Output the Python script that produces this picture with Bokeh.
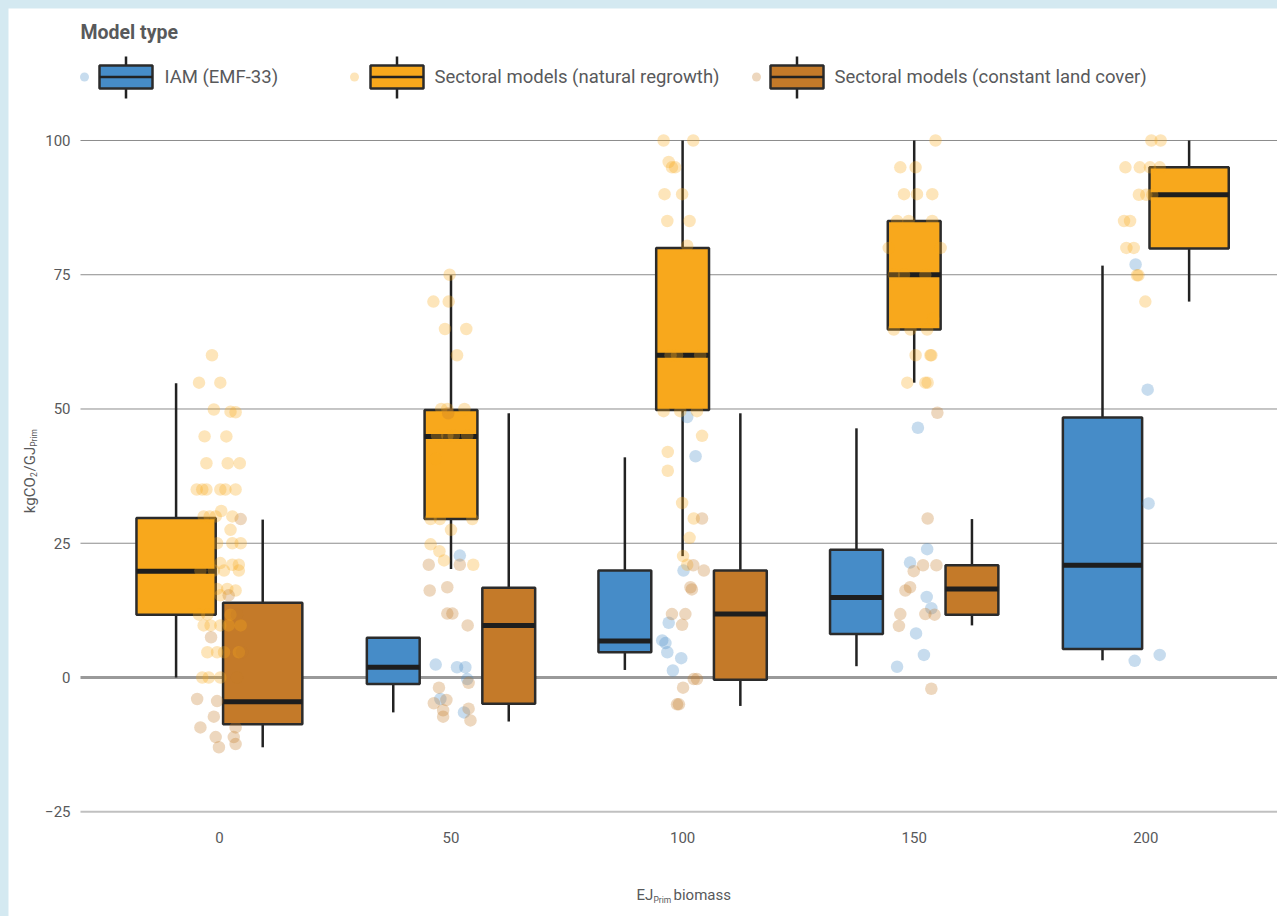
from bokeh.plotting import figure
from bokeh.models import ColumnDataSource, FixedTicker, Label, Range1d
from bokeh.core.properties import value
from bokeh.embed import file_html
from bokeh.resources import INLINE

# ---------------- data ----------------
type_names = ["IAM (EMF-33)", "Sectoral models (natural regrowth)",
              "Sectoral models (constant land cover)"]
type_colors = ["#468cc8", "#f8a81c", "#c47a29"]
x_ticks = [0, 50, 100, 150, 200]
y_ticks = [-25, 0, 25, 50, 75, 100]

# box statistics (lower whisker, q1, median, q3, upper whisker)
iam_groups = [50, 100, 150, 200]
iam_low = [-6.5, 1.4, 2.1, 3.2]
iam_q1 = [-1.2, 4.7, 8.1, 5.3]
iam_med = [1.9, 6.8, 14.9, 20.9]
iam_q3 = [7.4, 19.9, 23.8, 48.4]
iam_high = [7.4, 41.0, 46.4, 76.7]

nr_groups = [0, 50, 100, 150, 200]
nr_low = [0.0, 20.2, 22.6, 54.9, 70.0]
nr_q1 = [11.7, 29.5, 49.8, 64.8, 79.9]
nr_med = [19.8, 44.9, 60.0, 75.0, 89.9]
nr_q3 = [29.7, 49.8, 80.0, 85.0, 95.0]
nr_high = [54.8, 74.9, 100.0, 100.0, 100.0]

clc_groups = [0, 50, 100, 150]
clc_low = [-13.0, -8.2, -5.3, 9.7]
clc_q1 = [-8.7, -4.9, -0.4, 11.7]
clc_med = [-4.5, 9.7, 11.8, 16.5]
clc_q3 = [13.9, 16.7, 19.9, 20.9]
clc_high = [29.4, 49.2, 49.2, 29.5]

# individual (jittered) observations
iam_pt_x = [46.7, 51.3, 53.1, 53.5, 47.7, 52.8, 51.9,
            101.0, 102.8, 100.2, 97.0, 95.6, 96.3, 96.7, 99.7, 97.9,
            150.8, 152.8, 149.1, 152.7, 153.7, 150.4, 152.1, 146.3,
            197.8, 200.4, 200.6, 197.6, 203.0]
iam_pt_y = [2.4, 1.9, 1.9, -0.3, -4.0, -6.5, 22.7,
            48.5, 41.2, 19.9, 10.2, 6.9, 6.4, 4.7, 3.6, 1.3,
            46.5, 23.9, 21.4, 15.0, 12.9, 8.2, 4.2, 2.0,
            76.9, 53.6, 32.4, 3.1, 4.2]

nr_pt_x = [-1.6, -4.4, 0.2, -1.2, 2.4, 3.5, -3.2, 1.5, -2.8, 1.8, 4.4,
           -4.9, -3.7, -2.8, 0.2, 1.3, 3.5, 0.4, -3.4, -2.1, -0.8, 2.8,
           2.4, -0.5, 2.8, 4.6, 0.2, 2.8, 4.2, -4.1, -1.2, 1.0, 4.2,
           -0.5, 1.7, 3.5, 0.2, -4.4, -2.6, 2.4, -3.4, -1.9, 0.2, 2.0, 4.6,
           -2.6, -0.5, 1.0, 4.2, -3.7, -2.3, 0.2,
           49.7, 46.2, 49.5, 48.7, 53.3, 51.3, 47.9, 49.2, 52.9, 47.0, 49.2,
           50.6, 53.5, 46.7, 45.6, 47.6, 54.6, 50.0, 45.6, 47.5, 48.5, 54.8,
           95.9, 102.3, 97.0, 97.7, 98.4, 96.1, 99.9, 96.7, 101.5, 101.0,
           97.4, 98.8, 103.8, 95.9, 99.5, 103.1, 104.2, 96.8, 96.8, 99.9,
           102.4, 101.5, 100.1, 101.0,
           154.6, 147.0, 150.3, 147.8, 150.6, 153.9, 146.3, 148.8, 153.9,
           144.5, 155.7, 145.6, 147.8, 152.4, 154.1, 145.6, 149.2, 152.8,
           150.3, 153.5, 153.7, 148.5, 152.4, 152.9,
           201.2, 203.2, 195.6, 198.7, 200.9, 203.0, 198.5, 200.1, 201.4,
           195.3, 196.6, 195.8, 197.4, 198.1, 198.4, 199.9]
nr_pt_y = [60, 54.9, 54.9, 49.9, 49.5, 49.4, 44.9, 44.9, 39.9, 39.9, 39.9,
           35, 35, 35, 35, 35, 35, 31, 30, 30, 30, 30,
           27.5, 25, 25, 25, 21.3, 21, 21, 19.9, 19.9, 19.9, 19.9,
           16.5, 16.5, 16.2, 15.3, 11.7, 11.7, 11.7, 9.7, 9.7, 9.7, 9.7, 9.7,
           4.7, 4.7, 4.7, 4.7, 0.0, 0.0, 0.0,
           75, 70, 70, 64.9, 64.9, 60, 50, 50, 50, 45, 45,
           45, 45, 40.7, 29.5, 29.5, 29.5, 27.5, 24.8, 23.5, 21.8, 21,
           100, 100, 96, 95, 95, 90, 90, 85, 85, 80.4,
           60, 60, 60, 49.6, 49.6, 49.6, 45, 42, 38.5, 32.5,
           29.6, 26, 22.6, 21,
           100, 95, 95, 90, 90, 90, 85, 85, 85,
           80, 80, 75, 75, 75, 66.8, 64.8, 64.8, 64.8,
           60, 60, 60, 54.9, 54.9, 54.9,
           100, 100, 95, 95, 95, 95, 89.9, 89.9, 89.9,
           85, 85, 80, 80, 74.9, 74.9, 70]

clc_pt_x = [4.6, -1.8, 2.0, 4.9, 3.8, 3.8, -4.8, -0.5, -1.2, -4.1, 3.5, -0.8,
            3.1, -0.1, 3.5,
            49.4, 45.2, 51.9, 45.4, 49.2, 49.2, 50.3, 53.6, 53.8, 47.4, 46.3,
            49.0, 48.3, 48.3, 53.8, 54.2,
            104.2, 102.3, 104.6, 101.7, 102.0, 97.7, 100.6, 99.9, 102.4,
            103.1, 100.1, 98.8, 99.2,
            155.0, 152.9, 151.9, 154.8, 149.9, 148.1, 149.1, 152.4, 154.4,
            147.0, 146.7, 153.7]
clc_pt_y = [29.5, 7.5, 15.3, 4.7, 0.0, 11.7, -4.0, -4.4, -7.3, -9.3, -9.3, -11.1,
            -11.1, -13.0, -12.4,
            49.2, 21, 21, 16.2, 16.8, 11.9, 11.9, 9.7, -1.0, -1.9, -4.8,
            -4.2, -6.1, -7.3, -5.8, -8.0,
            29.6, 20.9, 19.9, 16.8, 16.4, 11.8, 11.8, 9.8, -0.3,
            -0.3, -1.9, -5.0, -5.0,
            49.3, 29.6, 20.9, 20.9, 19.8, 16.2, 16.8, 11.8, 11.7,
            11.8, 9.6, -2.1]

# ---------------- layout / style ----------------
FONT = "Roboto"
TXT = "#58595b"
PAGE_BG = "#d4e9f1"
FIG_L, FIG_T, FIG_R, FIG_B = 8, 8, 1277, 916   # figure on the page (px)
PANEL_L, PANEL_B = 80, 820                       # visual panel edges (px)
X_START, X_END = -45.53, 228.43
Y_START, Y_END = -44.51, 124.58
DODGE = 37.4
BOX_FRAC = 0.915


def X(px):
    return X_START + (px - FIG_L) * (X_END - X_START) / (FIG_R - FIG_L)


def Y(py):
    return Y_END - (py - FIG_T) * (Y_END - Y_START) / (FIG_B - FIG_T)


p = figure(width=FIG_R - FIG_L, height=FIG_B - FIG_T, output_backend="svg",
           toolbar_location=None, margin=(FIG_T, 0, 0, FIG_L),
           x_range=Range1d(X_START, X_END), y_range=Range1d(Y_START, Y_END),
           min_border_left=0, min_border_right=0,
           min_border_top=0, min_border_bottom=0)
p.outline_line_color = None
p.background_fill_color = "white"
p.border_fill_color = "white"
p.title.visible = False

for ax in (p.xaxis, p.yaxis):
    ax.axis_line_color = None
    ax.major_tick_line_color = None
    ax.minor_tick_line_color = None
    ax.major_tick_out = 0
    ax.major_tick_in = 0
    ax.major_label_text_font = FONT
    ax.major_label_text_font_size = "15px"
    ax.major_label_text_color = TXT
p.xaxis.ticker = FixedTicker(ticks=x_ticks)
p.yaxis.ticker = FixedTicker(ticks=y_ticks)
p.yaxis.major_label_overrides = {-25: "\u221225"}
p.xaxis.major_label_standoff = 11
p.yaxis.major_label_standoff = 10
p.xaxis.fixed_location = Y(PANEL_B)
p.yaxis.fixed_location = X(PANEL_L)
p.xgrid.visible = False
p.ygrid.visible = False

# horizontal reference lines at the y ticks, starting at the panel's left edge
grid_major = [t for t in y_ticks if t > 0]
grid_zero = [t for t in y_ticks if t == 0]
grid_bottom = [y_ticks[0]]
p.segment(x0=X(PANEL_L), x1=X_END, y0=grid_major, y1=grid_major,
          line_color="#8c8c8c", line_width=1)
p.segment(x0=X(PANEL_L), x1=X_END, y0=grid_bottom, y1=grid_bottom,
          line_color="#c0c0c0", line_width=2)
p.segment(x0=X(PANEL_L), x1=X_END, y0=grid_zero, y1=grid_zero,
          line_color="#9a9a9a", line_width=3)

# ---------------- boxes ----------------
stats = [
    (iam_groups, iam_low, iam_q1, iam_med, iam_q3, iam_high),
    (nr_groups, nr_low, nr_q1, nr_med, nr_q3, nr_high),
    (clc_groups, clc_low, clc_q1, clc_med, clc_q3, clc_high),
]
present = {g: [t for t in range(3) if g in stats[t][0]] for g in x_ticks}

box = dict(cx=[], w=[], low=[], q1=[], med=[], q3=[], high=[], color=[])
for t, (gs, lo, a, m, b, hi) in enumerate(stats):
    for k, g in enumerate(gs):
        n = len(present[g])
        i = present[g].index(t)
        slot = DODGE / n
        box["cx"].append(g + (i - (n - 1) / 2) * slot)
        box["w"].append(slot * BOX_FRAC)
        box["low"].append(lo[k])
        box["q1"].append(a[k])
        box["med"].append(m[k])
        box["q3"].append(b[k])
        box["high"].append(hi[k])
        box["color"].append(type_colors[t])
box["left"] = [c - w / 2 for c, w in zip(box["cx"], box["w"])]
box["right"] = [c + w / 2 for c, w in zip(box["cx"], box["w"])]
bsrc = ColumnDataSource(box)

p.segment(x0="cx", x1="cx", y0="low", y1="q1", source=bsrc,
          line_color="#222222", line_width=2.5)
p.segment(x0="cx", x1="cx", y0="q3", y1="high", source=bsrc,
          line_color="#222222", line_width=2.5)
p.quad(left="left", right="right", bottom="q1", top="q3", source=bsrc,
       fill_color="color", line_color="#2b2b2b", line_width=2.5)
p.segment(x0="left", x1="right", y0="med", y1="med", source=bsrc,
          line_color="#1e1e1e", line_width=5, line_cap="butt")

# ---------------- points ----------------
for xs, ys, c in ((iam_pt_x, iam_pt_y, type_colors[0]),
                  (nr_pt_x, nr_pt_y, type_colors[1]),
                  (clc_pt_x, clc_pt_y, type_colors[2])):
    p.scatter(x=xs, y=ys, size=12.5, fill_color=c, fill_alpha=0.3,
              line_color=None)

# ---------------- legend ----------------
leg_dot_px = [84, 354, 756]
leg_box_px = [99, 370, 770]
leg_lab_px = [164, 434, 834]
LEG_W, LEG_T, LEG_B, LEG_MID, LEG_WT, LEG_WB = 53, 65, 88, 76.5, 56, 98
lsrc = ColumnDataSource(dict(
    dot=[X(v) for v in leg_dot_px],
    left=[X(v) for v in leg_box_px],
    right=[X(v + LEG_W) for v in leg_box_px],
    mid=[X(v + LEG_W / 2) for v in leg_box_px],
    lab=[X(v) for v in leg_lab_px],
    color=type_colors, name=type_names,
))
p.segment(x0="mid", x1="mid", y0=Y(LEG_WT), y1=Y(LEG_WB), source=lsrc,
          line_color="#222222", line_width=2.5)
p.quad(left="left", right="right", top=Y(LEG_T), bottom=Y(LEG_B), source=lsrc,
       fill_color="color", line_color="#2b2b2b", line_width=2.5)
p.segment(x0="left", x1="right", y0=Y(LEG_MID), y1=Y(LEG_MID), source=lsrc,
          line_color="#222222", line_width=2.5)
p.scatter(x="dot", y=Y(LEG_MID), source=lsrc, size=9, fill_color="color",
          fill_alpha=0.3, line_color=None)
p.text(x="lab", y=Y(LEG_MID), text="name", source=lsrc,
       text_font=value(FONT), text_font_size="18.5px", text_color=TXT,
       text_baseline="middle", text_align="left")
p.text(x=[X(80)], y=[Y(32)], text=["Model type"], text_font=value(FONT),
       text_font_size="19.5px", text_font_style="bold", text_color=TXT,
       text_baseline="middle", text_align="left")


# ---------------- axis titles (with subscripts) ----------------
def lab(text, px, py, size, angle=0.0):
    p.add_layout(Label(x=X(px), y=Y(py), text=text, text_font=FONT,
                       text_font_size=size, text_color=TXT, text_align="left",
                       text_baseline="alphabetic", angle=angle))


# x axis title: EJ_Prim biomass
lab("EJ", 636, 894, "15px")
lab("Prim", 653, 899, "8.5px")
lab("biomass", 673, 894, "15px")

# y axis title: kgCO2/GJ_Prim (rotated, reading upwards)
A = 1.5707963
lab("kgCO", 29.5, 512.7, "15px", angle=A)
lab("2", 33, 476.6, "8.5px", angle=A)
lab("/GJ", 29.5, 471, "15px", angle=A)
lab("Prim", 33.5, 446.3, "8.5px", angle=A)

html = file_html(p, INLINE)
head_end = html.find("</head>")
bi = html.find("<body", head_end)
html = html[:bi] + '<body style="background-color:%s;"' % PAGE_BG + html[bi + 5:]
open("out.html", "w").write(html)
